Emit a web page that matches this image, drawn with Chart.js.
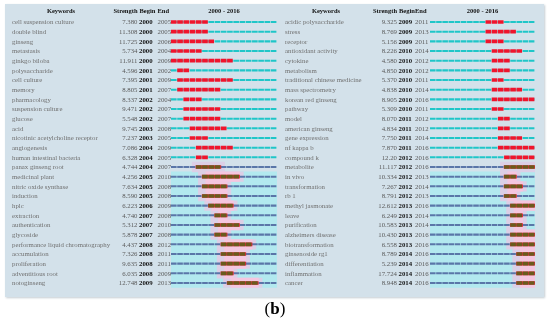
<!DOCTYPE html>
<html>
<head>
<meta charset="utf-8">
<script src="https://cdn.jsdelivr.net/npm/chart.js@4.4.0/dist/chart.umd.min.js"></script>
<style>
  body { margin: 0; background: #fff; }
  #wrap { position: relative; width: 550px; height: 323px; overflow: hidden; }
  #panel { position: absolute; left: 5px; top: 4px; width: 539px; height: 293px; background: #d3e1ea; box-shadow: 1px 1px 2px #c4ccd2; }
  canvas { position: absolute; left: 0; top: 0; }
  #cap { position: absolute; left: 0; top: 299px; width: 550px; text-align: center; font: 17px "Liberation Serif", serif; color: #000; }
</style>
</head>
<body>
<div id="wrap">
  <div id="panel"></div>
  <canvas id="c1" width="550" height="323"></canvas>
  <canvas id="c2" width="550" height="323"></canvas>
  <div id="cap">(<b>b</b>)</div>
</div>
<script>
// left half
const keywordsL = ['cell suspension culture', 'double blind', 'ginseng', 'metastasis', 'ginkgo biloba', 'polysaccharide',
  'cell culture', 'memory', 'pharmacology', 'suspension culture', 'glucose', 'acid', 'nicotinic acetylcholine receptor',
  'angiogenesis', 'human intestinal bacteria', 'panax ginseng root', 'medicinal plant', 'nitric oxide synthase', 'induction',
  'hplc', 'extraction', 'authentication', 'glycoside', 'performance liquid chromatography', 'accumulation', 'proliferation',
  'adventitious root', 'notoginseng'];
const strengthL = ['7.380', '11.308', '11.725', '5.734', '11.911', '4.596', '7.395', '8.805', '8.337', '9.471', '5.548', '9.745',
  '7.237', '7.086', '6.328', '4.744', '4.256', '7.634', '8.590', '6.223', '4.740', '5.312', '5.878', '4.437', '7.326', '9.635',
  '6.035', '12.748'];
const beginL = [2000, 2000, 2000, 2000, 2000, 2001, 2001, 2001, 2002, 2002, 2002, 2003, 2003, 2004, 2004, 2004, 2005, 2005, 2005,
  2006, 2007, 2007, 2007, 2008, 2008, 2008, 2008, 2009];
const endL = [2005, 2005, 2006, 2004, 2009, 2002, 2009, 2007, 2004, 2007, 2007, 2008, 2005, 2009, 2005, 2007, 2010, 2008, 2008,
  2009, 2008, 2010, 2008, 2012, 2011, 2011, 2009, 2013];

// right half
const keywordsR = ['acidic polysaccharide', 'stress', 'receptor', 'antioxidant activity', 'cytokine', 'metabolism',
  'traditional chinese medicine', 'mass spectrometry', 'korean red ginseng', 'pathway', 'model', 'american ginseng',
  'gene expression', 'nf kappa b', 'compound k', 'metabolite', 'in vivo', 'transformation', 'rb 1', 'methyl jasmonate', 'leave',
  'purification', 'alzheimers disease', 'biotransformation', 'ginsenoside rg1', 'differentiation', 'inflammation', 'cancer'];
const strengthR = ['9.325', '8.769', '5.156', '8.226', '4.580', '4.850', '5.370', '4.838', '8.905', '5.309', '8.070', '4.834',
  '7.750', '7.870', '12.20', '11.117', '10.334', '7.267', '8.791', '12.612', '6.249', '10.583', '10.430', '6.558', '8.789',
  '5.239', '17.724', '8.948'];
const beginR = [2009, 2009, 2009, 2010, 2010, 2010, 2010, 2010, 2010, 2010, 2011, 2011, 2011, 2011, 2012, 2012, 2012, 2012, 2012,
  2013, 2013, 2013, 2013, 2013, 2014, 2014, 2014, 2014];
const endR = [2011, 2013, 2011, 2014, 2012, 2012, 2011, 2014, 2016, 2011, 2012, 2012, 2014, 2016, 2016, 2016, 2013, 2014, 2013,
  2016, 2014, 2014, 2016, 2016, 2016, 2016, 2016, 2016];

const years = [2000, 2001, 2002, 2003, 2004, 2005, 2006, 2007, 2008, 2009, 2010, 2011, 2012, 2013, 2014, 2015, 2016];
const yearSpan = '2000 - 2016';

const HL = 15; // rows from here on sit in the highlighted area
const FONT = '"Liberation Serif", serif';

function buildDatasets(begin, end) {
  const rows = begin.map((b, i) => i);
  const ds = [];
  years.forEach(y => {
    ds.push({
      data: rows.map(i => (y >= begin[i] && y <= end[i]) ? [y + 0.05, y + 0.85] : null),
      backgroundColor: c => c.dataIndex >= HL ? '#6b5a1c' : '#f0142c',
      barThickness: 3, grouped: false, order: 1
    });
    ds.push({
      data: rows.map(() => [y + 0.05, y + 0.85]),
      backgroundColor: c => c.dataIndex >= HL ? '#5a76a8' : '#1fc6c8',
      barThickness: 1.4, grouped: false, order: 3
    });
  });
  // red under the olive dashes
  ds.push({
    data: rows.map(i => i >= HL ? [begin[i], end[i] + 1] : null),
    backgroundColor: '#e02a3c', barThickness: 3, grouped: false, order: 2
  });
  // pink patch
  ds.push({
    data: rows.map(i => i > HL ? [begin[i] + 0.6, Math.min(end[i] + 1, 2017)] : null),
    backgroundColor: '#f5c6df', barPercentage: 1, categoryPercentage: 1, grouped: false, order: 5
  });
  // lavender halo
  ds.push({
    data: rows.map(i => i >= HL ? [Math.max(begin[i] - 0.6, 2000), Math.min(end[i] + 1.6, 2017)] : null),
    backgroundColor: '#dccfe6', barPercentage: 1, categoryPercentage: 1, grouped: false, order: 6
  });
  // cyan band
  ds.push({
    data: rows.map(i => i > HL ? [2000, 2017] : null),
    backgroundColor: '#b2e9ef', barPercentage: 1, categoryPercentage: 1, grouped: false, order: 7
  });
  return ds;
}

const textPlugin = {
  id: 'cols',
  afterDraw(chart, args, o) {
    const ctx = chart.ctx;
    const ys = chart.scales.y;
    const area = chart.chartArea;
    ctx.save();
    ctx.textBaseline = 'middle';
    ctx.font = 'bold 6.5px ' + FONT;
    ctx.fillStyle = '#111';
    ctx.textAlign = 'center';
    ctx.fillText('Keywords', o.kwHead, o.headY);
    ctx.fillText(yearSpan, (area.left + area.right) / 2, o.headY);
    ctx.textAlign = 'right';
    ctx.fillText('Strength', o.str, o.headY);
    ctx.textAlign = 'left';
    ctx.fillText('Begin', o.beg + 0.5, o.headY);
    ctx.fillText('End', o.end, o.headY);
    o.kw.forEach((k, i) => {
      const y = ys.getPixelForValue(i) + 0.5;
      ctx.font = '6.8px ' + FONT;
      ctx.fillStyle = '#707070';
      ctx.textAlign = 'left';
      ctx.fillText(k, o.kwX, y);
      ctx.fillStyle = '#5a5a5a';
      ctx.textAlign = 'right';
      ctx.fillText(o.strength[i], o.str, y);
      ctx.textAlign = 'left';
      ctx.fillText(String(o.endY[i]), o.end, y);
      ctx.font = 'bold 6.8px ' + FONT;
      ctx.fillStyle = '#111';
      ctx.fillText(String(o.beginY[i]), o.beg, y);
    });
    ctx.restore();
  }
};

function makeChart(id, kw, strength, begin, end, geo) {
  new Chart(document.getElementById(id), {
    type: 'bar',
    data: { labels: kw, datasets: buildDatasets(begin, end) },
    options: {
      indexAxis: 'y',
      responsive: false,
      animation: false,
      events: [],
      layout: { padding: { left: geo.left, right: geo.right, top: 17.2, bottom: 35.2 } },
      scales: {
        x: { type: 'linear', min: 2000, max: 2017, display: false },
        y: { type: 'category', display: false }
      },
      plugins: {
        legend: { display: false },
        tooltip: { enabled: false },
        cols: {
          kw: kw, strength: strength, beginY: begin, endY: end,
          headY: 11.5, kwHead: geo.kwHead, kwX: geo.kwX, str: geo.str, beg: geo.beg, end: geo.end
        }
      }
    },
    plugins: [textPlugin]
  });
}

makeChart('c1', keywordsL, strengthL, beginL, endL,
  { left: 171, right: 273, kwHead: 61, kwX: 12, str: 137.5, beg: 139, end: 157.5 });
makeChart('c2', keywordsR, strengthR, beginR, endR,
  { left: 430, right: 15, kwHead: 326, kwX: 285, str: 397, beg: 398.5, end: 415 });
</script>
</body>
</html>
